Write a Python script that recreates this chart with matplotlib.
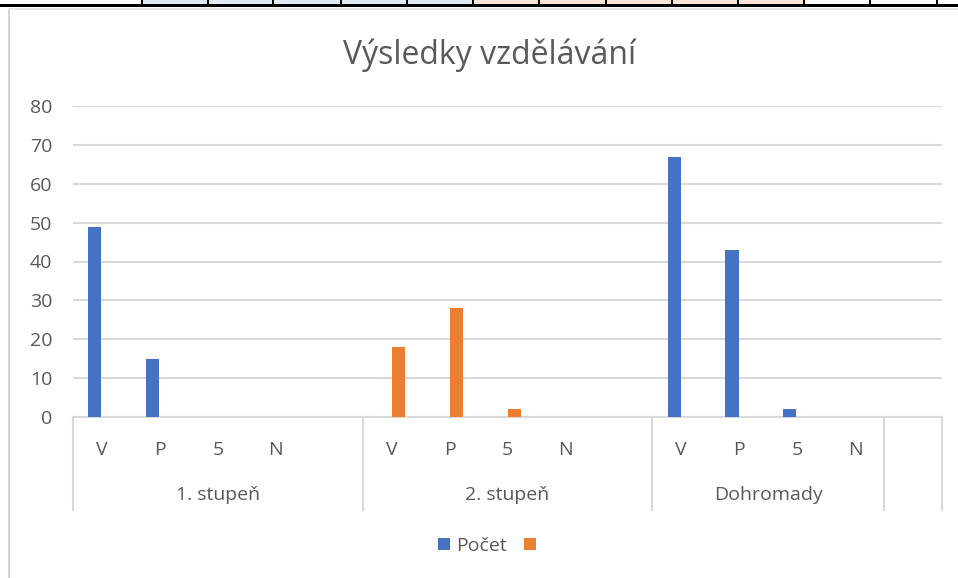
import matplotlib.pyplot as plt
from matplotlib.patches import Rectangle
from matplotlib.transforms import blended_transform_factory

# data
slot_labels = ["V", "P", "5", "N", "",
               "V", "P", "5", "N", "",
               "V", "P", "5", "N",
               ""]
pocet = [49, 15, 0, 0, 0,
         0, 0, 0, 0, 0,
         67, 43, 2, 0,
         0]
druha = [0, 0, 0, 0, 0,
         18, 28, 2, 0, 0,
         0, 0, 0, 0,
         0]
groups = ["1. stupeň", "2. stupeň", "Dohromady", ""]
group_sizes = [5, 5, 4, 1]
series_names = ["Počet", ""]

blue = "#4472C4"
orange = "#ED7D31"
txt = "#595959"
grid = "#D9D9D9"

plt.rcParams['font.family'] = ['Open Sans', 'DejaVu Sans']

W, H = 958, 578
fig = plt.figure(figsize=(W / 100, H / 100), dpi=100)

# spreadsheet strip above the chart
cell_edges = [141, 207, 272, 340, 406, 472, 538, 605, 671, 737, 803, 869, 936]
for i in range(len(cell_edges) - 1):
    x0, x1 = cell_edges[i], cell_edges[i + 1]
    col = "#DDEBF7" if i < 5 else ("#FCE4D6" if i < 10 else "white")
    fig.patches.append(Rectangle((x0 / W, 1 - 5 / H), (x1 - x0) / W, 5 / H,
                                 transform=fig.transFigure, facecolor=col, edgecolor="none"))
for x in cell_edges:
    fig.patches.append(Rectangle((x / W, 1 - 5 / H), 1.5 / W, 5 / H,
                                 transform=fig.transFigure, facecolor="black", edgecolor="none"))
fig.patches.append(Rectangle((0, 1 - 7 / H), 1, 2.5 / H, transform=fig.transFigure,
                             facecolor="black", edgecolor="none"))
# chart frame (left edge and top shadow)
fig.patches.append(Rectangle((8 / W, 0), 2 / W, 1 - 9 / H, transform=fig.transFigure,
                             facecolor="#D4D4D4", edgecolor="none"))
fig.patches.append(Rectangle((8 / W, 1 - 10 / H), 1, 2 / H, transform=fig.transFigure,
                             facecolor="#E6E6E6", edgecolor="none"))

# plot area: x 73..942, y 106..417 (pixels from top)
ax = fig.add_axes([73 / W, 1 - 417 / H, (942 - 73) / W, (417 - 106) / H])
n = len(slot_labels)
xs = [i + 0.5 for i in range(n)]
bw = 0.225
b1 = ax.bar([x - 0.125 for x in xs], pocet, width=bw, color=blue, zorder=3)
b2 = ax.bar([x + 0.12 for x in xs], druha, width=bw, color=orange, zorder=3)

ax.set_xlim(0, n)
ax.set_ylim(0, 80)
ax.set_yticks(range(0, 81, 10))
ax.yaxis.grid(True, color=grid, linewidth=1.5, zorder=0)
ax.set_axisbelow(True)
for s in ["top", "right", "left"]:
    ax.spines[s].set_visible(False)
ax.spines["bottom"].set_color(grid)
ax.spines["bottom"].set_linewidth(1.5)
ax.tick_params(axis="y", length=0, pad=15, labelsize=14, labelcolor=txt)
ax.tick_params(axis="x", length=0, pad=17, labelsize=14, labelcolor=txt)
ax.set_xticks(xs)
ax.set_xticklabels(slot_labels)

# group labels and separators below the axis
trans = blended_transform_factory(ax.transData, ax.transAxes)
depth = (510 - 417) / (417 - 106)
start = 0
edges = [0]
for g, size in zip(groups, group_sizes):
    ax.text(start + size / 2, -(495 - 417) / (417 - 106), g, transform=trans,
            ha="center", va="center", fontsize=14, color=txt)
    start += size
    edges.append(start)
for e in edges:
    ax.plot([e, e], [0, -depth], transform=trans, color=grid, linewidth=1.5,
            clip_on=False, zorder=1)

fig.text(490 / W, 1 - 55 / H, "Výsledky vzdělávání", ha="center", va="center",
         fontsize=23, color=txt)

fig.legend([b1, b2], series_names, loc="center", bbox_to_anchor=(490 / W, 1 - 546 / H),
           ncol=2, frameon=False, fontsize=14, labelcolor=txt, handlelength=0.6,
           handleheight=0.6, handletextpad=0.3, columnspacing=0.9)

fig.savefig("out.png", dpi=100)
